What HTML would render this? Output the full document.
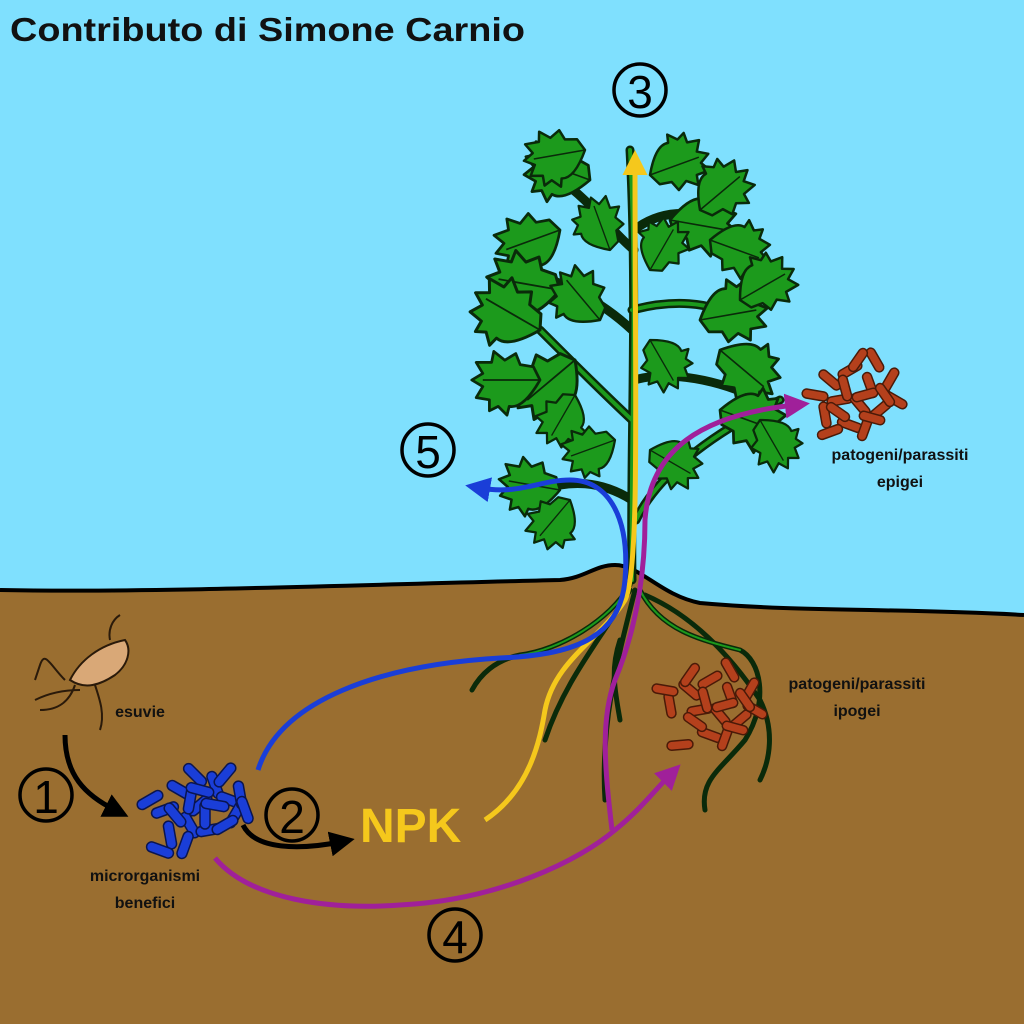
<!DOCTYPE html>
<html><head><meta charset="utf-8"><style>
html,body{margin:0;padding:0;width:1024px;height:1024px;overflow:hidden;background:#7fe0fe}
svg{display:block}
text{font-family:"Liberation Sans","DejaVu Sans",sans-serif}
</style></head><body>
<svg width="1024" height="1024" viewBox="0 0 1024 1024" xmlns="http://www.w3.org/2000/svg">
<defs>
<marker id="ak" markerWidth="5" markerHeight="5" refX="2" refY="2.5" orient="auto" markerUnits="strokeWidth"><path d="M0,0 L5,2.5 L0,5 Z" fill="#000"/></marker>
<marker id="ay" markerWidth="5" markerHeight="5" refX="2" refY="2.5" orient="auto" markerUnits="strokeWidth"><path d="M0,0 L5,2.5 L0,5 Z" fill="#f5c81c"/></marker>
<marker id="ab" markerWidth="5" markerHeight="5" refX="2" refY="2.5" orient="auto" markerUnits="strokeWidth"><path d="M0,0 L5,2.5 L0,5 Z" fill="#1a3ed8"/></marker>
<marker id="ap" markerWidth="5" markerHeight="5" refX="2" refY="2.5" orient="auto" markerUnits="strokeWidth"><path d="M0,0 L5,2.5 L0,5 Z" fill="#a0209a"/></marker>
<g id="leaf"><path d="M0,0 C8,-14 18,-26 28,-24 L30,-32 L38,-24 L46,-28 L46,-18 L58,-16 L52,-6 L62,0 L52,6 L58,16 L44,16 L42,26 L32,18 L22,24 L18,14 L6,12Z" fill="#1c9a1c" stroke="#0a2a0a" stroke-width="2.5" stroke-linejoin="round"/><path d="M0,0 L52,0" stroke="#0a2a0a" stroke-width="1.5"/></g>
<g id="bb"><rect x="-14" y="-5" width="28" height="10" rx="5" fill="#1a3ed8" stroke="#0a1550" stroke-width="1.5"/></g>
<g id="br"><rect x="-13" y="-4.5" width="26" height="9" rx="4.5" fill="#b4401c" stroke="#4a1a08" stroke-width="1.5"/></g>
</defs>
<rect width="1024" height="1024" fill="#7fe0fe"/>
<path d="M0,590 C150,593 350,585 560,580 C585,578 595,565 615,565 C640,565 660,595 700,603 C800,612 900,608 1024,615 L1024,1024 L0,1024Z" fill="#9a6e30"/>
<path d="M0,590 C150,593 350,585 560,580 C585,578 595,565 615,565 C640,565 660,595 700,603 C800,612 900,608 1024,615" fill="none" stroke="#000" stroke-width="4"/>
<text x="10" y="41" font-size="33" font-weight="bold" fill="#111" textLength="515" lengthAdjust="spacingAndGlyphs">Contributo di Simone Carnio</text>
<!-- roots -->
<g fill="none" stroke="#0a2a0a" stroke-width="5" stroke-linecap="round">
<path d="M630,585 C610,620 560,650 520,655 C495,660 480,675 472,690"/>
<path d="M630,590 C600,640 565,680 545,740"/>
<path d="M635,590 C620,650 600,720 605,800"/>
<path d="M640,590 C660,630 700,640 740,650 C760,660 770,700 745,740 C720,770 700,780 705,810"/>
<path d="M645,595 C680,610 720,640 760,700 C775,730 770,760 760,780"/>
<path d="M620,640 C610,670 615,690 620,720"/>
</g>
<g fill="none" stroke="#1c9a1c" stroke-width="2" stroke-linecap="round">
<path d="M630,585 C610,620 560,650 520,655"/><path d="M640,590 C660,630 700,640 740,650"/>
</g>
<!-- stem and branches -->
<g fill="none" stroke="#0a2a0a" stroke-width="9" stroke-linecap="round">
<path d="M632,580 C630,450 638,300 630,150"/>
<path d="M632,420 C600,390 570,360 540,330"/><path d="M632,330 C600,300 560,280 520,270"/>
<path d="M634,250 C610,230 590,200 560,180"/><path d="M632,310 C670,300 710,300 740,320"/>
<path d="M634,230 C660,210 690,210 720,220"/><path d="M632,500 C600,480 570,480 540,490"/>
<path d="M636,520 C660,470 720,430 780,400"/><path d="M634,380 C670,370 720,380 760,400"/>
</g>
<g fill="none" stroke="#1c9a1c" stroke-width="4" stroke-linecap="round">
<path d="M632,580 C630,450 638,300 630,150"/><path d="M636,520 C660,470 720,430 780,400"/>
<path d="M632,420 C600,390 570,360 540,330"/><path d="M632,310 C670,300 710,300 740,320"/>
</g>
<!-- leaves -->
<use href="#leaf" transform="translate(590,180) rotate(200) scale(1.1)"/>
<use href="#leaf" transform="translate(585,150) rotate(170)"/>
<use href="#leaf" transform="translate(560,230) rotate(160) scale(1.1)"/>
<use href="#leaf" transform="translate(560,290) rotate(190) scale(1.2)"/>
<use href="#leaf" transform="translate(540,330) rotate(210) scale(1.2)"/>
<use href="#leaf" transform="translate(575,360) rotate(140) scale(1.2)"/>
<use href="#leaf" transform="translate(540,380) rotate(180) scale(1.1)"/>
<use href="#leaf" transform="translate(575,395) rotate(120) scale(0.9)"/>
<use href="#leaf" transform="translate(600,320) rotate(230) scale(1.0)"/>
<use href="#leaf" transform="translate(610,250) rotate(250) scale(0.9)"/>
<use href="#leaf" transform="translate(650,175) rotate(-20) scale(1.0)"/>
<use href="#leaf" transform="translate(670,220) rotate(10) scale(1.1)"/>
<use href="#leaf" transform="translate(700,210) rotate(-40) scale(1.0)"/>
<use href="#leaf" transform="translate(710,240) rotate(20) scale(1.0)"/>
<use href="#leaf" transform="translate(650,270) rotate(-60) scale(0.9)"/>
<use href="#leaf" transform="translate(700,320) rotate(-10) scale(1.1)"/>
<use href="#leaf" transform="translate(720,350) rotate(40) scale(1.1)"/>
<use href="#leaf" transform="translate(740,300) rotate(-30) scale(1.0)"/>
<use href="#leaf" transform="translate(650,340) rotate(60) scale(0.9)"/>
<use href="#leaf" transform="translate(720,410) rotate(20) scale(1.1)"/>
<use href="#leaf" transform="translate(760,420) rotate(60) scale(0.9)"/>
<use href="#leaf" transform="translate(560,490) rotate(190) scale(1.0)"/>
<use href="#leaf" transform="translate(570,500) rotate(130) scale(0.9)"/>
<use href="#leaf" transform="translate(615,440) rotate(160) scale(0.9)"/>
<use href="#leaf" transform="translate(650,450) rotate(30) scale(0.9)"/>
<!-- bacteria blue -->
<g>
<use href="#bb" transform="translate(180,790) rotate(30)"/><use href="#bb" transform="translate(200,805) rotate(-40)"/>
<use href="#bb" transform="translate(215,785) rotate(70)"/><use href="#bb" transform="translate(230,800) rotate(20)"/>
<use href="#bb" transform="translate(165,810) rotate(-20)"/><use href="#bb" transform="translate(190,825) rotate(60)"/>
<use href="#bb" transform="translate(210,830) rotate(-10)"/><use href="#bb" transform="translate(235,815) rotate(-60)"/>
<use href="#bb" transform="translate(150,800) rotate(-30)"/><use href="#bb" transform="translate(170,835) rotate(80)"/>
<use href="#bb" transform="translate(160,850) rotate(20)"/><use href="#bb" transform="translate(225,775) rotate(-50)"/>
<use href="#bb" transform="translate(195,775) rotate(45)"/><use href="#bb" transform="translate(240,795) rotate(80)"/>
<use href="#bb" transform="translate(185,845) rotate(-70)"/><use href="#bb" transform="translate(205,815) rotate(90)"/>
<use href="#bb" transform="translate(190,800) rotate(-80)"/><use href="#bb" transform="translate(215,805) rotate(10)"/>
<use href="#bb" transform="translate(175,815) rotate(50)"/><use href="#bb" transform="translate(225,825) rotate(-30)"/>
<use href="#bb" transform="translate(200,790) rotate(15)"/><use href="#bb" transform="translate(245,810) rotate(70)"/>
</g>
<!-- bacteria red upper -->
<g>
<use href="#br" transform="translate(830,380) rotate(40)"/><use href="#br" transform="translate(850,370) rotate(-30)"/>
<use href="#br" transform="translate(870,385) rotate(70)"/><use href="#br" transform="translate(890,380) rotate(-60)"/>
<use href="#br" transform="translate(840,400) rotate(-10)"/><use href="#br" transform="translate(860,405) rotate(50)"/>
<use href="#br" transform="translate(880,410) rotate(-40)"/><use href="#br" transform="translate(825,415) rotate(80)"/>
<use href="#br" transform="translate(850,425) rotate(20)"/><use href="#br" transform="translate(830,432) rotate(-20)"/>
<use href="#br" transform="translate(875,360) rotate(60)"/><use href="#br" transform="translate(895,400) rotate(30)"/>
<use href="#br" transform="translate(865,428) rotate(-70)"/><use href="#br" transform="translate(815,395) rotate(10)"/>
<use href="#br" transform="translate(845,388) rotate(75)"/><use href="#br" transform="translate(865,395) rotate(-15)"/>
<use href="#br" transform="translate(885,395) rotate(55)"/><use href="#br" transform="translate(838,412) rotate(35)"/>
<use href="#br" transform="translate(858,360) rotate(-55)"/><use href="#br" transform="translate(872,418) rotate(15)"/>
</g>
<!-- bacteria red lower -->
<g>
<use href="#br" transform="translate(690,690) rotate(40)"/><use href="#br" transform="translate(710,680) rotate(-30)"/>
<use href="#br" transform="translate(730,695) rotate(70)"/><use href="#br" transform="translate(750,690) rotate(-60)"/>
<use href="#br" transform="translate(700,710) rotate(-10)"/><use href="#br" transform="translate(720,715) rotate(50)"/>
<use href="#br" transform="translate(740,720) rotate(-40)"/><use href="#br" transform="translate(670,705) rotate(80)"/>
<use href="#br" transform="translate(710,735) rotate(20)"/><use href="#br" transform="translate(680,745) rotate(-5)"/>
<use href="#br" transform="translate(730,670) rotate(60)"/><use href="#br" transform="translate(755,710) rotate(30)"/>
<use href="#br" transform="translate(725,738) rotate(-70)"/><use href="#br" transform="translate(665,690) rotate(10)"/>
<use href="#br" transform="translate(705,700) rotate(75)"/><use href="#br" transform="translate(725,705) rotate(-15)"/>
<use href="#br" transform="translate(745,700) rotate(55)"/><use href="#br" transform="translate(695,722) rotate(35)"/>
<use href="#br" transform="translate(690,675) rotate(-55)"/><use href="#br" transform="translate(735,728) rotate(15)"/>
</g>
<!-- arrows -->
<path d="M65,735 C65,775 85,795 115,810" fill="none" stroke="#000" stroke-width="5" marker-end="url(#ak)"/>
<path d="M243,825 C255,850 300,850 340,842" fill="none" stroke="#000" stroke-width="5" marker-end="url(#ak)"/>
<path d="M485,820 C530,790 540,740 545,710 C555,660 600,640 625,600 C640,570 635,400 635,165" fill="none" stroke="#f5c81c" stroke-width="5" marker-end="url(#ay)"/>
<path d="M258,770 C280,700 380,665 500,658 C570,655 620,640 625,580 C630,520 610,480 570,480 C540,480 520,495 480,488" fill="none" stroke="#1a3ed8" stroke-width="5" marker-end="url(#ab)"/>
<path d="M215,858 C250,900 330,910 400,905 C500,900 580,860 615,830 C640,810 655,790 670,775" fill="none" stroke="#a0209a" stroke-width="5" marker-end="url(#ap)"/>
<path d="M612,830 C605,770 600,720 615,680 C640,620 645,560 645,520 C650,450 700,415 795,405" fill="none" stroke="#a0209a" stroke-width="5" marker-end="url(#ap)"/>
<!-- numbers -->
<g fill="#000" text-anchor="middle" font-family="DejaVu Sans,sans-serif">
<circle cx="46" cy="795" r="26" fill="none" stroke="#000" stroke-width="3.5"/><text x="46" y="813" font-size="46">1</text>
<circle cx="292" cy="815" r="26" fill="none" stroke="#000" stroke-width="3.5"/><text x="292" y="833" font-size="46">2</text>
<circle cx="640" cy="90" r="26" fill="none" stroke="#000" stroke-width="3.5"/><text x="640" y="108" font-size="46">3</text>
<circle cx="455" cy="935" r="26" fill="none" stroke="#000" stroke-width="3.5"/><text x="455" y="953" font-size="46">4</text>
<circle cx="428" cy="450" r="26" fill="none" stroke="#000" stroke-width="3.5"/><text x="428" y="468" font-size="46">5</text>
</g>
<text x="360" y="842" font-size="48" font-weight="bold" fill="#f5c81c">NPK</text>
<g font-size="16" font-weight="bold" fill="#111" text-anchor="middle">
<text x="140" y="717">esuvie</text>
<text x="145" y="881">microrganismi</text>
<text x="145" y="908">benefici</text>
<text x="900" y="460">patogeni/parassiti</text>
<text x="900" y="487">epigei</text>
<text x="857" y="689">patogeni/parassiti</text>
<text x="857" y="716">ipogei</text>
</g>
<!-- exuvia -->
<g fill="#d9a877" stroke="#2a1a0a" stroke-width="2">
<path d="M70,680 C80,660 100,645 125,640 C132,650 128,665 115,675 C100,685 85,690 70,680Z"/>
<path d="M65,680 C50,665 45,650 40,665 L35,680" fill="none"/>
<path d="M75,685 C70,700 60,710 40,710" fill="none"/>
<path d="M95,685 C100,700 105,715 100,730" fill="none"/>
<path d="M110,640 C108,630 112,620 120,615" fill="none"/>
<path d="M80,690 C60,690 45,695 35,700" fill="none"/>
</g>
</svg>
</body></html>
